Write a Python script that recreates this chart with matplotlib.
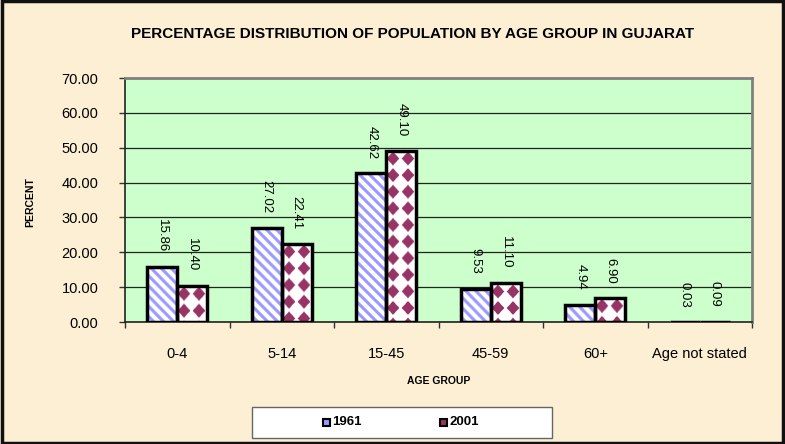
import numpy as np
import matplotlib
matplotlib.use('Agg')
from matplotlib import pyplot as plt
from matplotlib.patches import Rectangle
from matplotlib.colors import to_rgb

groups = ['0-4', '5-14', '15-45', '45-59', '60+', 'Age not stated']
pct_1961 = [15.86, 27.02, 42.62, 9.53, 4.94, 0.03]
pct_2001 = [10.40, 22.41, 49.10, 11.10, 6.90, 0.09]
series = ['1961', '2001']

plt.rcParams['font.family'] = ['Liberation Sans', 'DejaVu Sans']

blue = '#9999ff'
maroon = '#993366'
bg = '#fcefd3'


def fill_pattern(kind, W, H, color):
    # excel style pattern fill, built in pixel units (3x supersampled)
    s = 3
    yy, xx = (np.mgrid[0:H*s, 0:W*s] + 0.5) / s
    if kind == 'stripes':
        m = ((xx - yy) % 10) < 4.2
    else:
        # "solid diamond" pattern: square grid of diamonds, tips almost touching
        dx = (xx - 7) - np.round((xx - 7) / 15) * 15
        dy = (yy - 8.5) - np.round((yy - 8.5) / 16.5) * 16.5
        m = np.abs(dx) / 6.3 + np.abs(dy) / 6.9 <= 1
    mask = m.reshape(H, s, W, s).mean(axis=(1, 3))[..., None]
    c = np.array(to_rgb(color))
    return np.ones(3) * (1 - mask) + c * mask


fig = plt.figure(figsize=(7.85, 4.44), dpi=100, facecolor=bg)
# outer frame
fig.patches.append(Rectangle((0.002, 0.003), 0.996, 0.994, transform=fig.transFigure,
                             fill=False, edgecolor='#111111', linewidth=2.5))

ax = fig.add_axes([125/785, 1-322/444, 627/785, 244/444])
ax.set_facecolor('#ccffcc')
ax.set_ylim(0, 70)
ax.set_xlim(-0.5, len(groups) - 0.5)

x = np.arange(len(groups))
w = 0.287

for xs, vals, kind, col in ((x - w/2, pct_1961, 'stripes', blue),
                            (x + w/2, pct_2001, 'diamonds', maroon)):
    bars = ax.bar(xs, vals, w, fill=False, edgecolor='black', linewidth=2.5, zorder=4)
    for p, v in zip(bars, vals):
        (px0, py0), (px1, py1) = ax.transData.transform([(p.get_x(), 0), (p.get_x() + w, v)])
        W = max(1, int(round(px1 - px0)))
        H = max(1, int(round(py1 - py0)))
        ax.imshow(fill_pattern(kind, W, H, col), extent=(p.get_x(), p.get_x() + w, 0, v),
                  aspect='auto', interpolation='bilinear', zorder=3)
    for xi, v in zip(xs, vals):
        ax.annotate('%.2f' % v, (xi, v), xytext=(0, 10.5), textcoords='offset points',
                    rotation=-90, ha='center', va='bottom', fontsize=9.5)

ax.set_ylim(0, 70)
ax.set_xlim(-0.5, len(groups) - 0.5)
ax.set_yticks(np.arange(0, 71, 10))
ax.set_yticklabels(['%.2f' % t for t in np.arange(0, 71, 10)], fontsize=10.5)
ax.yaxis.grid(True, color='#222222', linewidth=0.9)
ax.set_axisbelow(True)

ax.set_xticks(np.arange(-0.5, len(groups), 1.0))
ax.set_xticklabels([])
ax.set_xticks(x, minor=True)
ax.set_xticklabels(groups, minor=True, fontsize=10.5)
ax.tick_params(axis='x', which='minor', length=0, pad=18)
ax.tick_params(axis='x', which='major', length=4, width=1, color='#333333')
ax.tick_params(axis='y', length=4, width=1, color='#333333', pad=15)

for s in ('top', 'right'):
    ax.spines[s].set_color('#808080')
    ax.spines[s].set_linewidth(2)
for s in ('left', 'bottom'):
    ax.spines[s].set_color('#222222')
    ax.spines[s].set_linewidth(1.2)

ax.set_xlabel('AGE GROUP', fontsize=7.5, fontweight='bold', labelpad=11)
fig.text(30/785, 1-202/444, 'PERCENT', rotation=90, fontsize=7.5, fontweight='bold',
         ha='center', va='center')
fig.text(413/785, 1-34/444, 'PERCENTAGE DISTRIBUTION OF POPULATION BY AGE GROUP IN GUJARAT',
         fontsize=11, fontweight='bold', ha='center', va='center')

# legend box
fig.patches.append(Rectangle((252/785, 1-438/444), 300/785, 31/444, transform=fig.transFigure,
                             facecolor='white', edgecolor='#666666', linewidth=1))
for sx, lab, col in ((323, series[0], blue), (440, series[1], maroon)):
    fig.patches.append(Rectangle((sx/785, 1-426/444), 7/785, 7/444, transform=fig.transFigure,
                                 facecolor=col, edgecolor='black', linewidth=1.5))
    fig.text((sx + 9)/785, 1-422/444, lab, fontsize=9.5, fontweight='bold', va='center')

fig.savefig('out.png', dpi=100, facecolor=bg)
